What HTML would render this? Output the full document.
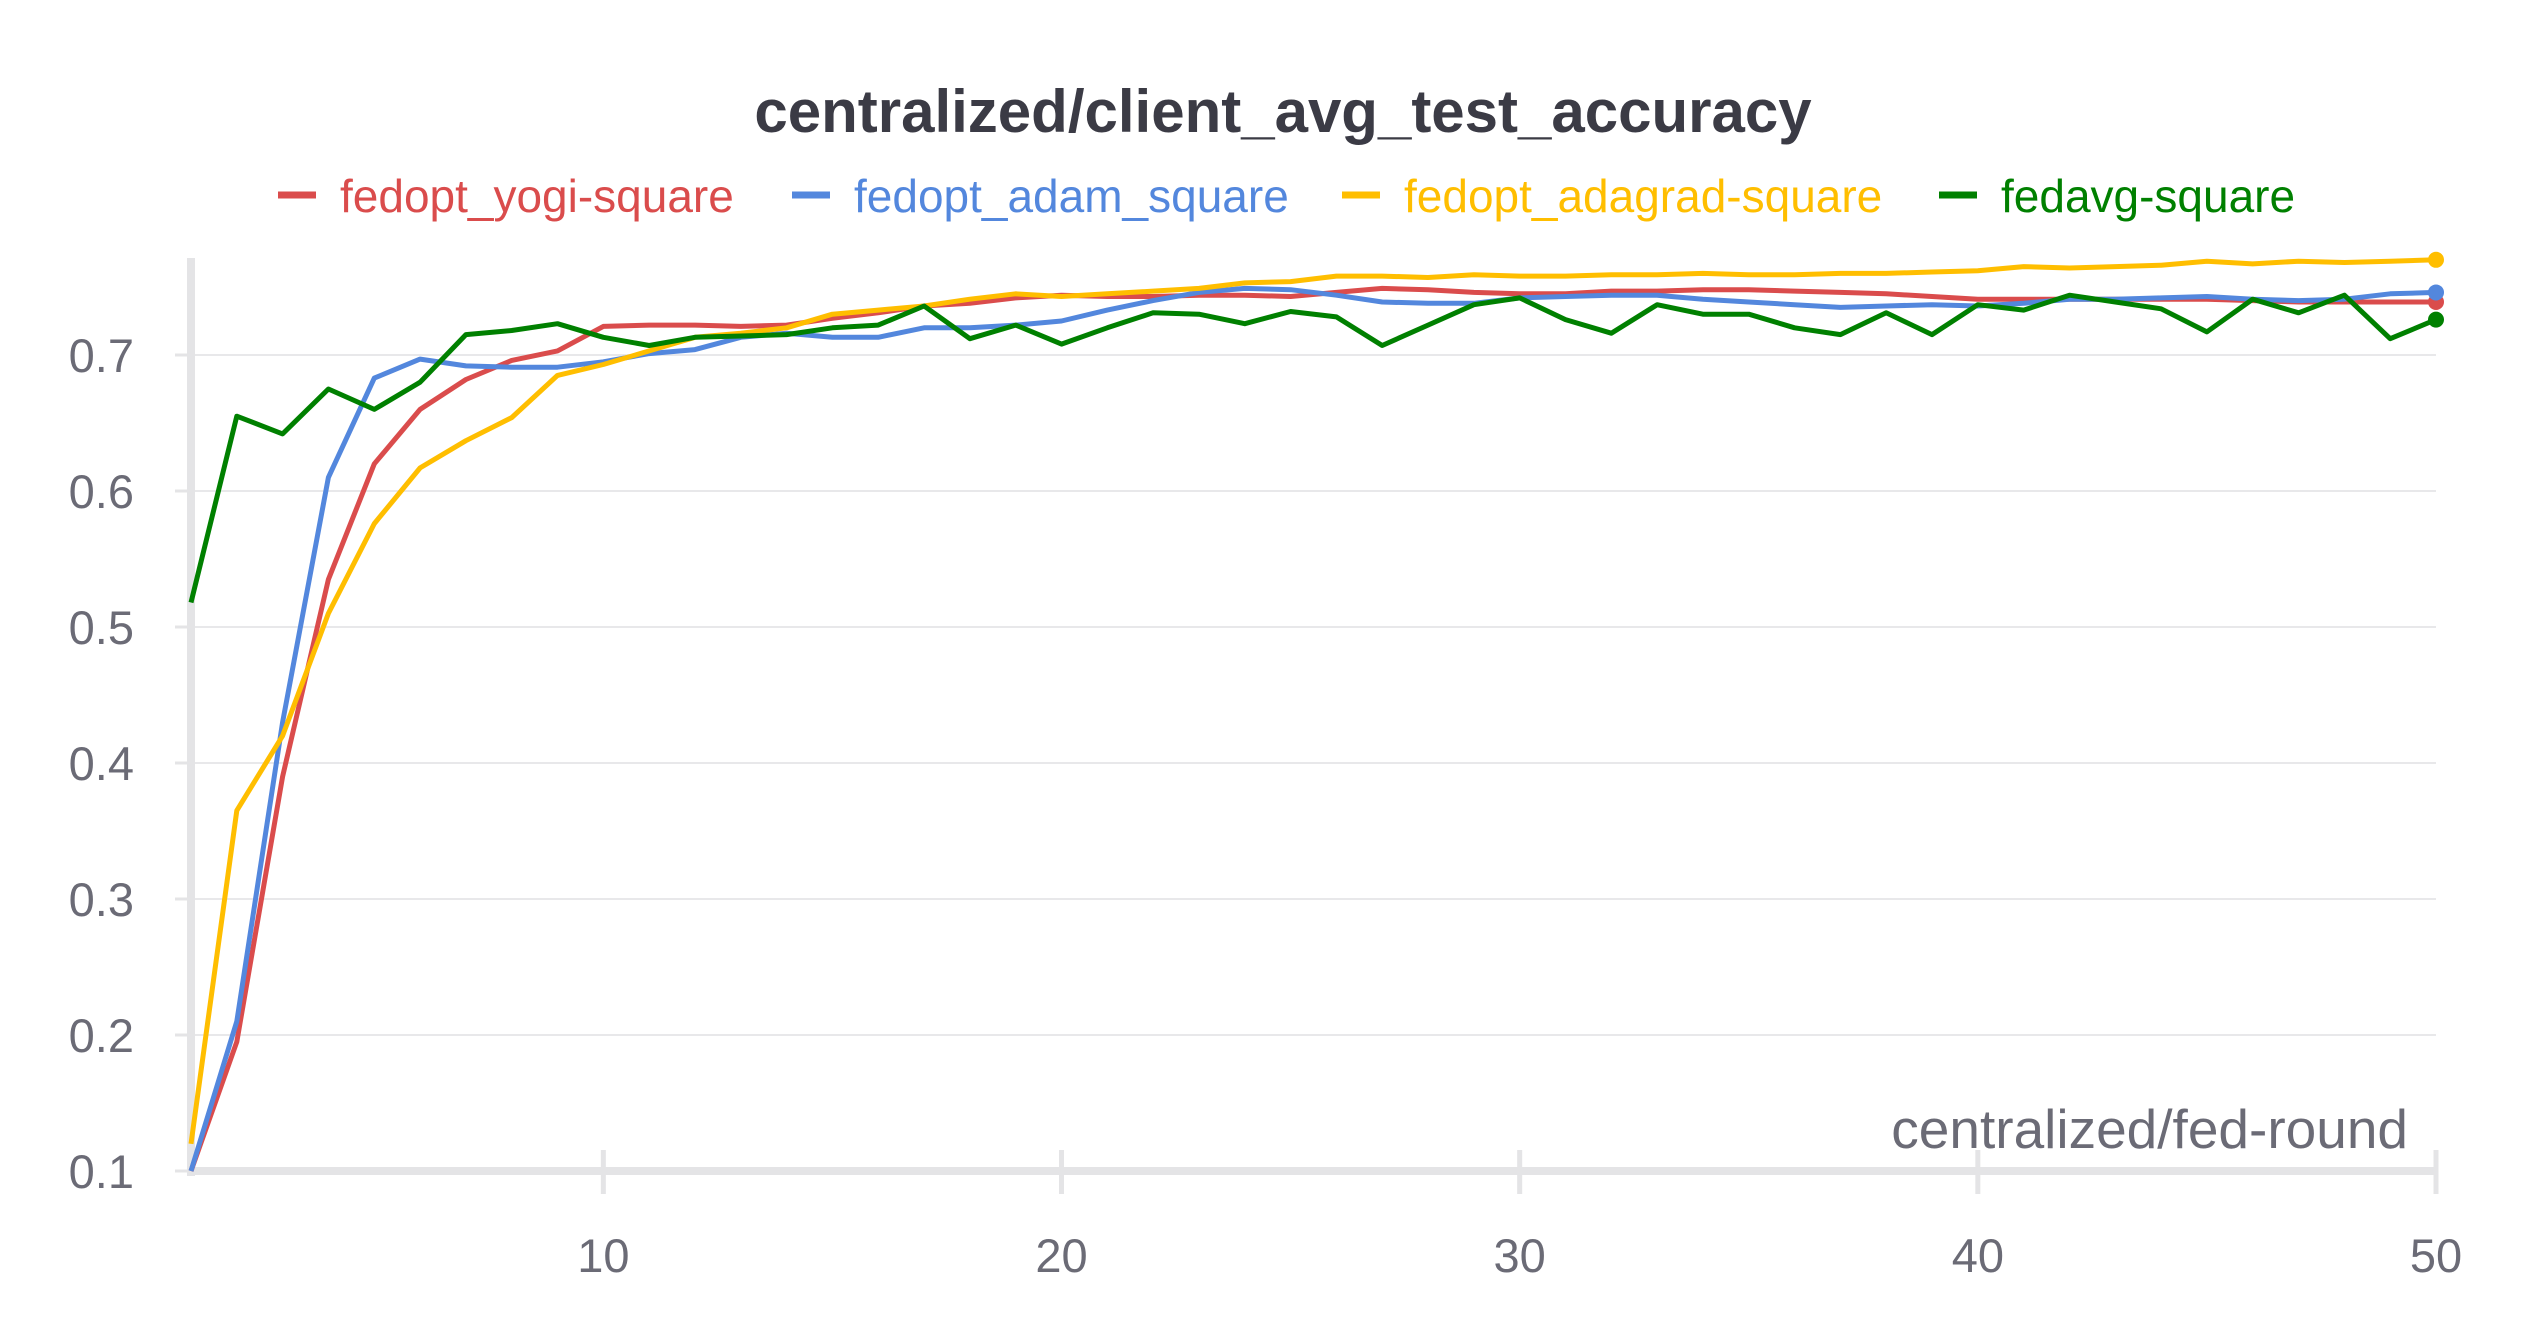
<!DOCTYPE html>
<html><head><meta charset="utf-8"><style>
html,body{margin:0;padding:0;background:#fff;width:2528px;height:1328px;overflow:hidden}
svg{display:block;font-family:"Liberation Sans",sans-serif}
</style></head><body>
<svg id="chart" width="2528" height="1328" viewBox="0 0 2528 1328" xmlns="http://www.w3.org/2000/svg">
<text x="1283" y="132" text-anchor="middle" font-size="60" font-weight="bold" fill="#3b3b45">centralized/client_avg_test_accuracy</text>
<g id="legend"></g>
<g id="grid"></g>
<g id="axes"></g>
<g id="series"></g>
<text x="2408" y="1148" text-anchor="end" font-size="55" fill="#6b6b76">centralized/fed-round</text>
</svg>
<script>
const seriesNames = ["fedopt_yogi-square","fedopt_adam_square","fedopt_adagrad-square","fedavg-square"];
const seriesColors = ["#da4c4c","#5387dd","#ffbe00","#008000"];
const yogi = [0.1,0.195,0.39,0.535,0.62,0.66,0.682,0.696,0.703,0.721,0.722,0.722,0.721,0.722,0.727,0.731,0.736,0.738,0.742,0.744,0.743,0.743,0.744,0.744,0.743,0.746,0.749,0.748,0.746,0.745,0.745,0.747,0.747,0.748,0.748,0.747,0.746,0.745,0.743,0.741,0.741,0.741,0.741,0.741,0.741,0.740,0.739,0.739,0.739,0.739];
const adam = [0.1,0.21,0.43,0.61,0.683,0.697,0.692,0.691,0.691,0.695,0.701,0.704,0.713,0.716,0.713,0.713,0.72,0.72,0.722,0.725,0.733,0.74,0.746,0.749,0.748,0.744,0.739,0.738,0.738,0.742,0.743,0.744,0.744,0.741,0.739,0.737,0.735,0.736,0.737,0.736,0.738,0.741,0.741,0.742,0.743,0.741,0.740,0.741,0.745,0.746];
const adagrad = [0.12,0.365,0.42,0.51,0.576,0.617,0.637,0.654,0.685,0.693,0.703,0.713,0.716,0.72,0.73,0.733,0.736,0.741,0.745,0.743,0.745,0.747,0.749,0.753,0.754,0.758,0.758,0.757,0.759,0.758,0.758,0.759,0.759,0.76,0.759,0.759,0.76,0.76,0.761,0.762,0.765,0.764,0.765,0.766,0.769,0.767,0.769,0.768,0.769,0.77];
const fedavg = [0.518,0.655,0.642,0.675,0.66,0.68,0.715,0.718,0.723,0.713,0.707,0.713,0.714,0.715,0.72,0.722,0.736,0.712,0.722,0.708,0.72,0.731,0.73,0.723,0.732,0.728,0.707,0.722,0.737,0.742,0.726,0.716,0.737,0.730,0.730,0.72,0.715,0.731,0.715,0.737,0.733,0.744,0.739,0.734,0.717,0.741,0.731,0.744,0.712,0.726];
const yTicks = [0.1,0.2,0.3,0.4,0.5,0.6,0.7];
const xTicks = [10,20,30,40,50];

const NS="http://www.w3.org/2000/svg";
const X0=191,X1=2436,Y0=1171,Y1=355;
function xs(r){return X0+(r-1)*(X1-X0)/49;}
function ys(v){return Y0-(v-0.1)*(Y0-Y1)/0.6;}
function mk(tag,attrs,parent){const e=document.createElementNS(NS,tag);for(const k in attrs)e.setAttribute(k,attrs[k]);parent.appendChild(e);return e;}
const grid=document.getElementById('grid'),axes=document.getElementById('axes'),ser=document.getElementById('series'),leg=document.getElementById('legend');
yTicks.forEach(t=>{
  const l=mk('line',{x1:X0,x2:X1,y1:ys(t),y2:ys(t),stroke:'#e8e8ea','stroke-width':2},grid);
  
  
  const tk=mk('line',{x1:X0-16,x2:X0,y1:ys(t),y2:ys(t),stroke:'#e4e4e6','stroke-width':3},axes);
  
  
  const tx=mk('text',{x:134,y:ys(t)+17,'text-anchor':'end','font-size':47,fill:'#6b6b76'},axes);
  tx.textContent=t.toFixed(1);
  
  
});
const ya=mk('line',{x1:X0,x2:X0,y1:258,y2:1176,stroke:'#e4e4e6','stroke-width':8},axes);


const xa=mk('line',{x1:X0-4,x2:X1,y1:Y0,y2:Y0,stroke:'#e4e4e6','stroke-width':8},axes);


xTicks.forEach(t=>{
  const tk=mk('line',{x1:xs(t),x2:xs(t),y1:1150,y2:1194,stroke:'#e4e4e6','stroke-width':5},axes);
  
  
  const tx=mk('text',{x:xs(t),y:1272,'text-anchor':'middle','font-size':47,fill:'#6b6b76'},axes);
  tx.textContent=String(t);
  
  
});
const allData=[yogi,adam,adagrad,fedavg];
[0,1,2,3].forEach(i=>{
  const d=allData[i];
  const pts=d.map((v,k)=>xs(k+1).toFixed(1)+','+ys(v).toFixed(1)).join(' ');
  const p=mk('polyline',{points:pts,fill:'none',stroke:seriesColors[i],'stroke-width':5,'stroke-linejoin':'round'},ser);
  
  
  const c=mk('circle',{cx:xs(d.length),cy:ys(d[d.length-1]),r:8,fill:seriesColors[i]},ser);
  
  
});
const legX=[278,792,1342,1939];
seriesNames.forEach((n,i)=>{
  const g=mk('g',{},leg);
  
  
  mk('line',{x1:legX[i],x2:legX[i]+38,y1:195,y2:195,stroke:seriesColors[i],'stroke-width':7},g);
  const t=mk('text',{x:legX[i]+62,y:212,'font-size':46,fill:seriesColors[i]},g);
  t.textContent=n;
});
</script>
</body></html>
